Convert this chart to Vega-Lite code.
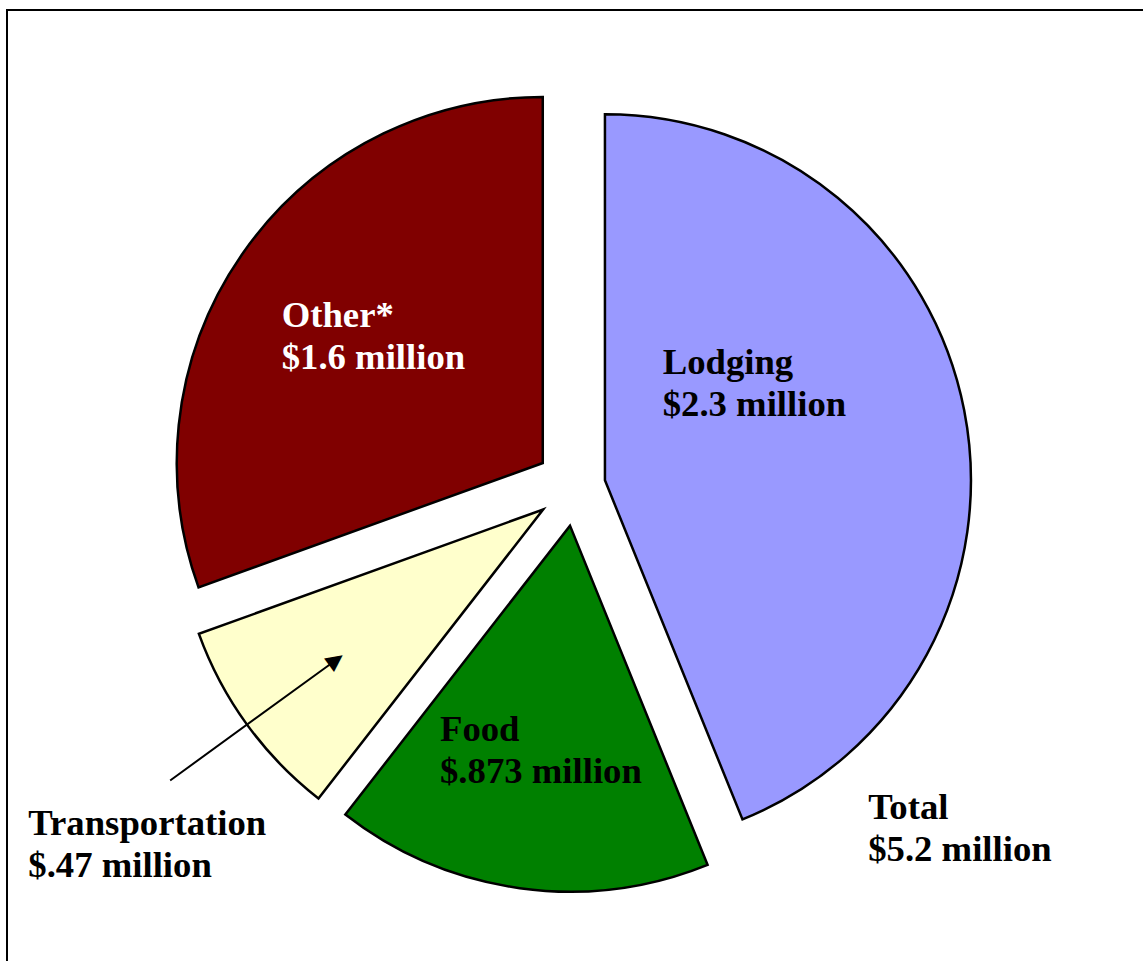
{
  "$schema": "https://vega.github.io/schema/vega-lite/v6.json",
  "width": 1137,
  "height": 952,
  "autosize": {"type": "none"},
  "padding": {"left": 7, "top": 10, "right": -1, "bottom": -1},
  "background": "white",
  "view": {"stroke": "black", "strokeWidth": 2, "fill": "white"},
  "config": {"text": {"font": "Liberation Serif"}},
  "data": {"values": [
    {"ord": 1, "category": "Lodging", "amount": 2.3, "label": "Lodging\n$2.3 million"},
    {"ord": 2, "category": "Food", "amount": 0.873, "label": "Food\n$.873 million"},
    {"ord": 3, "category": "Transportation", "amount": 0.47, "label": "Transportation\n$.47 million"},
    {"ord": 4, "category": "Other", "amount": 1.6, "label": "Other*\n$1.6 million"}
  ]},
  "layer": [
    {
      "mark": {
        "type": "arc", "outerRadius": 366, "stroke": "black", "strokeWidth": 2.5, "strokeJoin": "miter",
        "xOffset": {"expr": "(datum.category === 'Lodging' ? 30 : 40)*sin((scale('theta', datum.amount_start)+scale('theta', datum.amount_end))/2)"},
        "yOffset": {"expr": "-(datum.category === 'Lodging' ? 30 : 40)*cos((scale('theta', datum.amount_start)+scale('theta', datum.amount_end))/2)"}
      },
      "encoding": {
        "theta": {"field": "amount", "type": "quantitative", "stack": true},
        "order": {"field": "ord", "type": "quantitative"},
        "color": {"field": "category", "type": "nominal", "legend": null,
          "scale": {"domain": ["Lodging", "Food", "Transportation", "Other"], "range": ["#9999FF", "#008000", "#FFFFCC", "#800000"]}}
      }
    },
    {
      "mark": {"type": "arc", "innerRadius": 296, "outerRadius": 501, "padAngle": 1.5, "fillOpacity": 0, "stroke": "black", "strokeWidth": 2},
      "encoding": {
        "theta": {"field": "amount", "type": "quantitative", "stack": true},
        "order": {"field": "ord", "type": "quantitative"},
        "strokeOpacity": {"condition": {"test": "datum.category === 'Transportation'", "value": 1}, "value": 0}
      }
    },
    {
      "mark": {"type": "text", "radius": 295, "angle": 54, "fontSize": 22, "font": "DejaVu Sans", "align": "center", "baseline": "middle", "color": "black"},
      "encoding": {
        "theta": {"field": "amount", "type": "quantitative", "stack": true},
        "order": {"field": "ord", "type": "quantitative"},
        "text": {"condition": {"test": "datum.category === 'Transportation'", "value": "▲"}, "value": ""}
      }
    },
    {
      "mark": {"type": "text", "radius": 141.7, "align": "left", "baseline": "alphabetic", "fontSize": 36.7, "fontWeight": "bold", "lineBreak": "\n", "lineHeight": 42, "color": "black"},
      "encoding": {
        "theta": {"field": "amount", "type": "quantitative", "stack": true, "bandPosition": 0.2405},
        "order": {"field": "ord", "type": "quantitative"},
        "text": {"condition": {"test": "datum.category === 'Lodging'", "field": "label"}, "value": ""}
      }
    },
    {
      "mark": {"type": "text", "radius": 288.5, "align": "left", "baseline": "alphabetic", "fontSize": 36.7, "fontWeight": "bold", "lineBreak": "\n", "lineHeight": 42, "color": "black"},
      "encoding": {
        "theta": {"field": "amount", "type": "quantitative", "stack": true, "bandPosition": 0.8355},
        "order": {"field": "ord", "type": "quantitative"},
        "text": {"condition": {"test": "datum.category === 'Food'", "field": "label"}, "value": ""}
      }
    },
    {
      "mark": {"type": "text", "radius": 649, "align": "left", "baseline": "alphabetic", "fontSize": 36.7, "fontWeight": "bold", "lineBreak": "\n", "lineHeight": 42, "color": "black"},
      "encoding": {
        "theta": {"field": "amount", "type": "quantitative", "stack": true, "bandPosition": 0.6074},
        "order": {"field": "ord", "type": "quantitative"},
        "text": {"condition": {"test": "datum.category === 'Transportation'", "field": "label"}, "value": ""}
      }
    },
    {
      "mark": {"type": "text", "radius": 334.2, "align": "left", "baseline": "alphabetic", "fontSize": 36.7, "fontWeight": "bold", "lineBreak": "\n", "lineHeight": 42, "color": "white"},
      "encoding": {
        "theta": {"field": "amount", "type": "quantitative", "stack": true, "bandPosition": 0.4399},
        "order": {"field": "ord", "type": "quantitative"},
        "text": {"condition": {"test": "datum.category === 'Other'", "field": "label"}, "value": ""}
      }
    },
    {
      "mark": {"type": "text", "radius": 443.6, "align": "left", "baseline": "alphabetic", "fontSize": 36.7, "fontWeight": "bold", "lineBreak": "\n", "lineHeight": 42, "color": "black"},
      "encoding": {
        "theta": {"field": "amount", "type": "quantitative", "stack": true, "bandPosition": 0.8783},
        "order": {"field": "ord", "type": "quantitative"},
        "text": {"condition": {"test": "datum.category === 'Lodging'", "value": "Total\n$5.2 million"}, "value": ""}
      }
    }
  ]
}
